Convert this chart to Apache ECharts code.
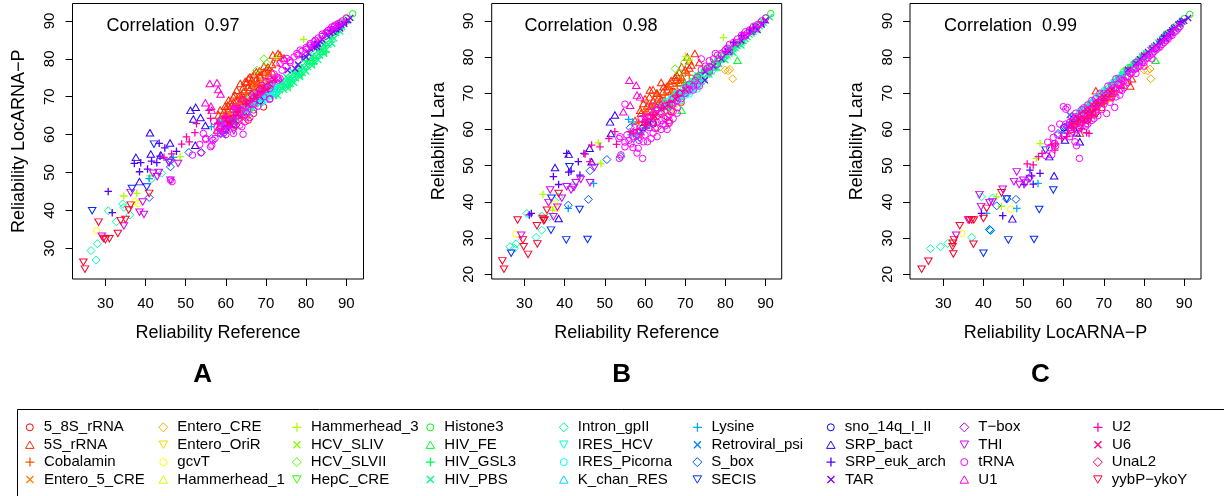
<!DOCTYPE html>
<html><head><meta charset="utf-8">
<script src="https://cdn.jsdelivr.net/npm/echarts@6/dist/echarts.min.js"></script>
<style>html,body{margin:0;padding:0;background:#fff}#c{width:1224px;height:496px}</style>
</head><body><div id="c"></div>
<script>
const famNames = ['5_8S_rRNA','5S_rRNA','Cobalamin','Entero_5_CRE','Entero_CRE','Entero_OriR','gcvT','Hammerhead_1','Hammerhead_3','HCV_SLIV','HCV_SLVII','HepC_CRE','Histone3','HIV_FE','HIV_GSL3','HIV_PBS','Intron_gpII','IRES_HCV','IRES_Picorna','K_chan_RES','Lysine','Retroviral_psi','S_box','SECIS','sno_14q_I_II','SRP_bact','SRP_euk_arch','TAR','T\u2212box','THI','tRNA','U1','U2','U6','UnaL2','yybP\u2212ykoY'];
const famColors = ['#FF0000','#FF2A00','#FF5500','#FF8000','#FFAA00','#FFD500','#FFFF00','#D5FF00','#AAFF00','#80FF00','#55FF00','#2BFF00','#00FF00','#00FF2B','#00FF55','#00FF80','#00FFAA','#00FFD5','#00FFFF','#00D5FF','#00AAFF','#0080FF','#0055FF','#002BFF','#0000FF','#2B00FF','#5500FF','#8000FF','#AA00FF','#D500FF','#FF00FF','#FF00D5','#FF00AA','#FF0080','#FF0055','#FF002B'];
const panelTitles = ['A','B','C'];
const xTitles = ['Reliability Reference','Reliability Reference','Reliability LocARNA\u2212P'];
const yTitles = ['Reliability LocARNA\u2212P','Reliability Lara','Reliability Lara'];
const correlations = ['0.97','0.98','0.99'];
const xTicks = [30,40,50,60,70,80,90];
const yTicksA = [30,40,50,60,70,80,90];
const yTicksBC = [20,30,40,50,60,70,80,90];

// [x, y, familyIndex]
const pointsA = [
[24.5,26.3,35],[24.9,24.5,35],[28.3,36.9,35],[29.5,32.6,35],[30.0,32.3,35],[31.0,32.5,35],[33.1,33.9,35],[33.8,37.3,35],[35.0,37.6,35],[35.8,40.1,35],[36.3,41.4,35],[40.9,44.5,35],
[26.4,29.4,16],[27.7,26.9,16],[28.0,31.2,16],[30.7,39.9,16],[32.7,37.0,16],[34.3,41.7,16],[34.6,40.8,16],[36.1,38.8,16],[41.5,48.3,16],[44.0,49.8,16],
[27.8,34.6,6],[37.4,42.3,6],[38.2,41.8,6],
[29.1,33.2,29],[34.6,35.9,29],[36.3,44.7,29],[38.5,39.5,29],[39.6,38.9,29],[39.3,42.2,29],[41.9,49.8,29],[42.9,48.9,29],[43.3,50.0,29],[45.9,52.6,29],[48.1,52.4,29],[46.2,48.0,29],
[26.7,39.9,23],[36.6,45.8,23],[40.3,46.2,23],[42.1,57.5,23],[45.8,52.7,23],
[30.7,45.0,26],[31.7,39.4,26],[37.2,52.4,26],[38.5,50.2,26],[38.8,52.6,26],[40.5,50.9,26],[41.5,53.0,26],[42.8,52.6,26],[43.4,57.7,26],[44.8,56.5,26],[43.6,54.3,26],[47.7,55.6,26],
[41.1,60.5,25],[41.3,54.9,25],[37.6,54.0,25],[38.5,47.6,25],[46.1,57.8,25],[51.2,66.4,25],[52.5,67.2,25],[51.9,64.1,25],[53.7,64.5,25],[52.4,57.2,25],[54.9,62.4,25],[43.8,54.6,25],
[40.9,43.4,22],[46.2,51.5,22],[46.4,53.3,22],[50.8,55.3,22],[53.9,55.3,22],[56.5,59.0,22],[59.7,61.2,22],
[40.9,48.4,20],[46.9,54.0,20],[56.4,62.1,20],[58.5,63.4,20],[59,62.5,20],[61.5,64,20],[62.5,66,20],
[44.6,54.0,32],[49.0,57.5,32],[50.2,59.4,32],[50.9,58.1,32],[52.3,60.5,32],[52.7,62.9,32],[55.8,66.4,32],[56.2,64.3,32],[46.5,54.9,32],
[34.6,43.8,8],[37.8,44.5,8],[41.1,49.1,8],[48.6,54.2,8],[79.4,85.1,8],[72.6,80.3,8],
[56.0,73.5,31],[57.8,73.7,31],[58.1,71.9,31],[58.7,70.7,31],[56.3,67.5,31],[54.9,68.4,31],[56.5,66.4,31],[60,65,31],[62,67.5,31],[64,69.5,31],
[51.7,54.6,30],[53.5,57.4,30],[53.8,55.2,30],[56.2,56.8,30],[55.0,58.7,30],[64.3,60.1,30],[70.9,69.3,30],[56.8,58.5,30],[46.2,48.0,30],[46.6,47.6,30],
[68,68.5,15],[69,69.5,15],[70,70.2,15],[70.5,71.5,15],[71,70.8,15],
[72,72.3,15],[73.5,73.8,15],[75,75.3,15],[76.5,76.8,15],[78,78.3,15],[79.5,79.8,15],[81,81.3,15],[82.5,82.8,15],[84,84.3,15],[85.5,85.8,15],[87,87.3,15],[88.5,88.6,15],[90,90,15],[91,90.8,15],
[71,70.2,15],[72.5,71.7,15],[74,73.2,15],[75.5,74.7,15],[77,76.2,15],[78.5,77.7,15],[80,79.2,15],[81.5,80.7,15],[83,82.2,15],[84.5,83.7,15],[86,85.2,15],[87.5,86.8,15],[89,88.4,15],
[72,70.2,15],[73.5,71.7,15],[75,73.2,15],[76.5,74.7,15],[78,76.2,15],[79.5,77.7,15],[81,79.2,15],[82.5,80.7,15],[84,82.2,15],[85.5,83.8,15],[87,85.4,15],[88.5,87.2,15],
[73,70.3,15],[74.5,71.8,15],[76,73.3,15],[77.5,74.8,15],[79,76.3,15],[80.5,77.8,15],[82,79.3,15],[83.5,80.8,15],[85,82.4,15],[86.5,84,15],
[75.5,72.2,15],[77,73.7,15],[78.5,75.2,15],[80,76.7,15],[81.5,78.2,15],[83,79.7,15],[84.5,81.3,15],
[70,72,14],[71.5,73.5,14],[72.8,72.5,14],[74.3,73.2,14],[75.8,74.5,14],[77.3,76.2,14],[78.8,77.5,14],[80.3,79.5,14],[81.8,80.2,14],[83.3,82.5,14],[84.8,83.5,14],[86.3,85.5,14],[87.8,87,14],[76,72.8,14],[79,75.7,14],[82,78.7,14],[85,81.8,14],[89,89,14],
[66,67.5,16],[67,68,16],[68,69.5,16],[69,70.2,16],[70,71,16],[71,72.2,16],[72,71.5,16],[73,72,16],[74,72.8,16],[75,74,16],[76,74.6,16],[77,75.5,16],[65,66,16],[64.5,67,16],
[68.5,70.5,16],[70.5,72,16],[72.5,71,16],[74.5,73.5,16],[76.5,75.8,16],[78.5,76.5,16],
[63,64.5,17],[64,65.2,17],[65,66.8,17],[66,66.5,17],[67,67.2,17],[68,68.2,17],[69,69,17],[70,69.8,17],[71,71,17],[72,72.5,17],[73,73.2,17],
[64,66,18],[65.5,67.5,18],[66.5,68.8,18],[67.5,69.5,18],[68.5,70,18],[69.5,70.8,18],[70.5,71.2,18],[67,70.5,18],[66,69.5,18],[68,67.5,18],[69,68.5,18],[70,69.2,18],[71,70.2,18],[72,71,18],[71.5,72,18],
[72,71,13],[75,73.5,13],[78,76,13],[81,79.5,13],[84,82,13],
[73.0,81.4,1],[71.7,81.0,1],[65.6,74.8,1],[64.4,72.6,1],[62.7,71.7,1],[61.9,70.0,1],[60.7,69.1,1],[59.8,67.5,1],[58.6,66.5,1],[58.2,65.2,1],[57.8,61.2,1],[67.6,76.6,1],[68.4,76.8,1],[70.2,77.4,1],[63.6,73.5,1],[65.2,73.9,1],[66.5,74.4,1],[61.1,68.2,1],[62.7,69.1,1],[68.6,75.2,1],[70.6,75.7,1],[71.5,76.6,1],[69.5,78,1],[66,72,1],[64,70.5,1],[63,68,1],[60,65.5,1],[67,73.5,1],[74.5,80.2,1],[72.5,79,1],[68,74,1],
[58.5,64,1],[59.5,66,1],[61,67,1],[62,68.5,1],[63.5,70.5,1],[64.5,71.5,1],[65.5,72.5,1],[66.5,73,1],[67.5,74.5,1],[68.5,75.8,1],[69.5,76.5,1],[70.5,77.8,1],[71.5,78.5,1],[72.5,80.5,1],[73.5,81,1],[60.5,67.8,1],[62.2,70.5,1],[64.8,74,1],[66,75.2,1],[67,76,1],
[66.9,73.5,2],[63.6,70.0,2],[61.9,67.3,2],[60.2,65.6,2],[68.1,72.6,2],[69.4,73.1,2],[66.1,68.2,2],[64.4,66.5,2],[62.7,64.3,2],[67.7,69.1,2],[65,71,2],[61,66,2],[59,63.5,2],[70,74.5,2],[64.5,68.5,2],
[59.5,64.5,2],[61,65,2],[62.5,67,2],[63.5,68,2],[65,69.5,2],[66,70.5,2],[67,71.5,2],[68.5,72,2],[69.5,72.8,2],[71,74,2],[64,69,2],[62,66,2],[60.5,63.5,2],[67.5,73,2],[70.5,76,2],
[65.6,63.8,0],[69.4,67.3,0],[66.9,65.6,0],[63,66.5,0],[61.5,64,0],[67.5,71,0],[62,62.5,0],[65,68.5,0],[60,63,0],[68.5,73.5,0],
[63.5,67,0],[64.5,66,0],[66,67.5,0],[67,68.5,0],[68,70,0],[69,71,0],[70,71.5,0],[62.5,64.5,0],[65.5,70,0],
[62,65,3],[64,67.5,3],[66,70,3],[69,74,3],[61,65.5,3],[63,66.8,3],[65,69,3],[67,72,3],[68,71,3],
[67.6,67.5,5],[63,63.8,7],[70.5,73,9],[66.5,67,11],[65.5,65.8,19],[68.5,69,24],[62,63,24],[60,61.5,24],
[67.7,77.0,10],[70.2,78.8,10],[69.5,80.0,10],
[59.3,59.9,21],[61.0,62.9,21],[60,61,21],[62,63.5,21],[58.5,60.6,21],
[75.4,77,27],[77.3,77.4,27],[80,80.5,27],[81,82.7,27],[82.7,84,27],[84,85.1,27],[85.2,86.2,27],[86.8,87.1,27],[88.5,88,27],[89.5,89.2,27],[90.5,90.2,27],[87.5,87.8,27],[83.5,84.6,27],
[80.5,81.5,27],[82,83,27],[83,84,27],[86,86.8,27],[87,87.8,27],[88.8,89,27],[91,90.8,27],[78,78.5,27],[82.7,83.2,27],
[84.7,86.7,26],[90.1,89.7,26],[86,87.5,26],[88,88.8,26],[82,83.8,26],[79,80.5,26],
[80.5,83,28],[85,86,28],[87.8,88.5,28],
[91.6,91.9,12],[90.1,90.6,12],[89,89.5,12],[88,89.2,12],[86.5,87.2,12],
[61.9,66.5,30],[63.5,65.8,30],[65.2,65.6,30],[67,69.5,30],[68.6,70.9,30],[70.2,72.6,30],[72.7,75.2,30],[73.1,74.4,30],[71.0,72.2,30],[69.4,70.0,30],[66.9,66.5,30],[64.8,63.4,30],[64.0,62.1,30],[61.1,62.9,30],[60.2,61.2,30],[58.6,60.3,30],[57.3,59.0,30],[56.5,57.2,30],[54.4,60.3,30],[55,59,30],[71.0,69.5,30],[71.5,73.5,30],[73.5,74.8,30],[61.9,60.3,30],[63,64,30],[66,64.5,30],[68,67.5,30],[62.5,66.8,30],[60,64,30],[59,62,30],[75.2,80.1,30],[74.4,79.6,30],[73.5,78.8,30],[77.7,81.4,30],[78.5,82.3,30],[81.0,83.6,30],[82.3,84.9,30],[86.4,88.4,30],[87.2,88.9,30],[76,79,30],[80,82.5,30],[84,86.5,30],[85.5,87.5,30],[88.5,89.5,30],[70,74,30],[72,76,30],[67,71,30],[65,67.5,30],[69,72,30],[57.8,62,30],[59.5,60.5,30],[62.5,63.5,30],[58,60.5,30],[59,64,30],[57,63.5,30],
[60,62.5,30],[61,64,30],[62,64.5,30],[63,65,30],[64,66.5,30],[65,66,30],[66,68,30],[67,68,30],[68,70.5,30],[69,71.5,30],[70,72,30],[71,73,30],[72,74.5,30],[73,75,30],[74,77,30],[75,78,30],[76,79.5,30],[77,80.5,30],[78,81,30],[79,82,30],[80,83,30],[81,84,30],[82,84.5,30],[83,85.5,30],[84,86,30],[85,87,30],[86,87.8,30],[87,88.5,30],[88,89.3,30],[89,90,30],[90,90.8,30],[63,67,30],[65,68.5,30],[67,70,30],[69,73,30],[71,74.5,30],[62,62,30],[63.5,62.5,30],[60,60,30],[58.5,61.5,30],
[58,63,32],[60,64.5,32],[62,65,32],[63.5,67,32],[66,69,32],[68,70.5,32],[59,61.5,32],[61,63.5,32],[63,66,32],[65,68,32],[67,69.5,32],[69,71.5,32],[64,64.5,32],
[60.5,63,33],[63,65.5,33],[65.5,68,33],[67.5,70,33],[70,71.8,33],[72,74.5,33],
[61,64,34],[64.5,69,34],[66.5,70.5,34],[68.5,72,34],[70.5,72.8,34],[62.5,62.5,34],[65,64.5,34],
[60.5,62,29],[62,61,29]
];

const pointsB = [
[24.5,23.7,35],[24.9,21.4,35],[28.3,35.0,35],[29.6,29.5,35],[29.8,27.6,35],[30.9,25.5,35],[33.2,28.4,35],[33.1,33.4,35],[34.6,35.4,35],[35.0,35.0,35],[35.6,37.7,35],[38.5,42.3,35],[34.8,34.8,35],
[26.4,27.6,16],[27.9,28.4,16],[27.5,27.2,16],[30.6,36.8,16],[32.9,30.2,16],[34.3,32.2,16],[34.3,36.1,16],[36.2,35.9,16],[42.0,44.6,16],[38.5,41.4,16],
[27.9,31.1,6],[37.5,39.4,6],[38.0,38.2,6],
[29.2,30.8,29],[36.0,39.8,29],[36.4,43.3,29],[37.2,35.9,29],[38.2,38.5,29],[39.3,41.0,29],[40.5,44.2,29],[41.6,43.3,29],[42.8,45.3,29],[46.3,45.3,29],[44.0,46.2,29],[47.4,49.5,29],[42.3,44.0,29],
[26.7,25.8,23],[36.7,41.0,23],[36.6,32.2,23],[40.4,29.5,23],[45.7,29.6,23],[43.7,37.9,23],[41.2,49.7,23],
[31.7,36.8,26],[31.2,36.4,26],[37.2,47.0,26],[38.5,44.8,26],[40.5,53.4,26],[41.6,48.5,26],[43.4,51.1,26],[44.8,53.4,26],[43.8,47.4,26],[41.0,48.2,26],
[37.6,49.5,25],[38.5,35.4,25],[41.0,53.2,25],[46.2,54.8,25],[51.3,62.1,25],[52.5,64.0,25],[51.5,58.9,25],[46.7,51.1,25],
[40.9,39.1,22],[45.9,40.7,22],[50.5,51.7,22],[54.0,52.5,22],[46.3,48.6,22],[56.3,60.5,22],
[40.9,38.2,20],[47.2,45.1,20],[55.9,62.8,20],[56.9,62.1,20],[58,59,20],[60,60.5,20],[56.5,58.5,20],
[45.1,53.2,32],[46.7,55.7,32],[48.8,55.2,32],[51.0,57.5,32],[52.9,55.9,32],[52.5,59.4,32],[56.3,59.4,32],[46.3,51.1,32],
[34.6,42.1,8],[37.0,37.7,8],[48.4,56.3,8],[49.0,50.6,8],[79.5,85.4,8],[70.1,80.2,8],[71,79.2,8],
[56.1,73.6,31],[57.8,72.2,31],[58.0,69.5,31],[58.8,69.0,31],[56.3,66.7,31],[54.6,64.9,31],[60,63,31],[62,65,31],[64,67,31],
[55.0,67.0,30],[53.8,58.0,30],[55.0,55.2,30],[53.6,52.0,30],[58.3,54.8,30],[59.4,52.0,30],[59.6,56.6,30],[60.6,56.6,30],[62.5,60.3,30],[66.0,61.7,30],[67.0,63.0,30],[57.9,58.2,30],
[79.9,76.4,4],[80.7,76.2,4],[81.1,76.6,4],[81.8,74.0,4],
[83.0,79.1,13],[69.1,65.3,13],[75,76.5,13],[78,79.8,13],
[69.7,78.4,10],[67.5,76.8,10],[68.5,75.5,10],
[91.3,92.0,12],[90,90.8,12],[88.8,89.6,12],[87.5,88.5,12],
[68,70,15],[69,70.5,15],[70,71.5,15],[71,72,15],[72,73,15],[73,74,15],[74,75,15],[75,75.8,15],[76,76.5,15],[77,77.6,15],[78,78.4,15],[79,79.2,15],[80,80.2,15],[81,81,15],[82,82.2,15],[83,83,15],[84,84,15],[85,85,15],[86,86.2,15],[87,87,15],[88,88,15],[89,89,15],[90,90,15],
[70.5,70.8,15],[71.5,71.5,15],[72.5,72.5,15],[73.5,73.5,15],[74.5,74.2,15],[75.5,75.3,15],[76.5,76,15],[77.5,77,15],[78.5,78,15],[79.5,79.5,15],[80.5,80.5,15],[81.5,81.5,15],[82.5,82.5,15],[83.5,83.5,15],[84.5,84.5,15],[85.5,85.5,15],[86.5,86.5,15],[87.5,87.5,15],[88.5,88.5,15],[89.5,89.5,15],[91,91,15],
[74,73.2,15],[76,75.2,15],[78,77,15],[80,79.2,15],[82,81.2,15],[84,83.2,15],[73,75,15],[77,78.8,15],[81,82.6,15],
[70,72.5,14],[72,74,14],[74,75.8,14],[76,77.5,14],[78,79,14],[80,81,14],[82,83,14],[84,84.8,14],[86,86.8,14],
[71,73,14],[73,74.8,14],[75,76.5,14],[77,78,14],[79,80,14],[81,82,14],[83,83.8,14],
[64,66,16],[65,67.5,16],[66,68,16],[67,69,16],[68,69.5,16],[69,70,16],[70,70.8,16],[71,71.5,16],[72,72.2,16],[73,73,16],[74,74.2,16],[75,75,16],
[68.5,69,16],[69.5,69.5,16],[70.5,70,16],[71.5,70.8,16],[72.5,71.5,16],[73.5,72.5,16],[74.5,73.5,16],[76,75.5,16],[77,76.5,16],
[63,65,17],[64.5,66,17],[66,67,17],[67.5,68.2,17],[69,69,17],[70.5,70.2,17],[72,71.5,17],[73.5,72.5,17],
[65,67.5,18],[66.5,68.5,18],[68,70,18],[69.5,71,18],[71,71,18],[70,69.5,18],[67.5,67.8,18],[72.5,72,18],[68.5,69,18],[70.5,70.5,18],[71.5,71.8,18],[69,68,18],[71,69.8,18],[73,71.2,18],
[61.2,70.9,1],[67.7,73.6,1],[69.1,77.3,1],[62.9,70.0,1],[61.1,69.0,1],[59.6,67.2,1],[58.8,65.3,1],[60.5,64.9,1],[64.6,71.8,1],[66.2,72.7,1],[67.9,75.0,1],[69.1,74.5,1],[72.4,81.0,1],[71,79,1],[70.5,80,1],[63.5,69,1],[65.5,71,1],[61.5,66.5,1],[66.5,70.5,1],[68.5,73,1],[57.5,62.5,1],[60,62,1],[71.5,77.8,1],[73.5,78.5,1],[64,73,1],[62,71,1],
[59,64.5,1],[60.5,66.5,1],[62,68,1],[63,70,1],[64.5,70.5,1],[65.5,72,1],[66.5,73.5,1],[67.5,74.5,1],[68.5,75.8,1],[70,76.5,1],[71,77,1],[60,68.5,1],[62.5,67,1],[64,68.5,1],
[66,72.5,2],[63,69.5,2],[61.5,67,2],[60,65,2],[68,73,2],[69,74,2],[65,68,2],[64,66.5,2],[62,64.5,2],[67.5,69,2],[70,75.5,2],[58.5,62,2],
[60.5,64,2],[62,66,2],[63.5,67.5,2],[65,69.5,2],[66.5,71,2],[68,72,2],[69.5,73,2],[71,75,2],[61.5,63,2],
[65.5,63.5,0],[69,67.5,0],[66.5,65,0],[63,66,0],[61,63.5,0],[67,70.5,0],[62,62,0],[64.5,68,0],
[62,64,3],[64.5,67,3],[67,70,3],
[69,67.5,5],[67,65.5,5],[63,64,7],[70.5,72,9],[66,66,11],[65.5,66.5,19],[59.5,60.5,24],[62,61.5,24],
[59,59.5,21],[60.5,61,21],[58,57.5,21],[61,62,21],
[75,76,27],[77,77.5,27],[79,79.5,27],[81,81.5,27],[82.5,83.5,27],[84,84.5,27],[85,86,27],[86.5,87,27],[87.5,88.3,27],[89,89,27],[90,90.2,27],[88,87.5,27],[74.9,73.6,27],
[84,86,26],[86,87.5,26],[89.5,89.5,26],[82,84,26],[80,81.5,26],[87,88,26],
[80,82,28],[85,86.2,28],
[61.9,66.5,30],[63.5,64.5,30],[65,63,30],[67,67,30],[68.6,70,30],[70.2,71.5,30],[72.5,73.5,30],[73,74.5,30],[71,71,30],[69,68.5,30],[66,64,30],[64.5,61.5,30],[64,60,30],[61,60.5,30],[60.5,61,30],[58.5,59.5,30],[57,58,30],[56.5,56,30],[55.5,58.5,30],[56,57,30],[58,53.5,30],[70.3,70.9,30],[72,70.9,30],[76.1,77.3,30],[74,79.5,30],[75.5,77,30],[77.5,81,30],[79,80.5,30],[80.5,82.5,30],[81,81.5,30],[83,84,30],[84.5,86,30],[86,87,30],[87.5,88,30],[88.5,89,30],[85,85.8,30],[78,78,30],[76,76,30],[73.5,72,30],[68,66,30],[65.5,60,30],[63,62,30],[62,64,30],[59,63,30],[60,63.5,30],[57.5,60.5,30],[60,58.5,30],[55,56.5,30],[54,53,30],[53.5,57.5,30],
[60,62,30],[61,63.5,30],[62,63,30],[63,65.5,30],[64,65,30],[65,66.5,30],[66,67,30],[67,68.5,30],[68,68,30],[69,70,30],[70,70,30],[71,72.5,30],[72,72,30],[73,72.5,30],[74,76.5,30],[75,77.5,30],[76,79,30],[77,79.5,30],[78,80.5,30],[79,81,30],[80,82,30],[81,83.5,30],[82,84,30],[83,85,30],[84,86,30],[85,87,30],[86,87.5,30],[87,88.5,30],[88,89,30],[89,90,30],[90,90.8,30],[62,59,30],[63,58,30],[61.5,57.5,30],[64,62.5,30],[66,62.5,30],[68,64.5,30],[65,61,30],[67,65,30],[57,55,30],[58.5,57,30],
[58,60,32],[60,62,32],[62,64,32],[64,66,32],[66,67.5,32],[68,69.5,32],[59,58.5,32],[57,59,32],
[60,61,33],[62.5,63.5,33],[65,66,33],[67.5,68.5,33],[70,71,33],
[61,62,34],[64,64.5,34],[66.5,67,34],[68.5,70,34],[63,60.5,34],[66,62,34]
];

const pointsC = [
[24.6,21.4,35],[26.3,23.6,35],[32.3,27.6,35],[32.5,25.6,35],[32.7,29.5,35],[34.1,33.4,35],[36.5,35.0,35],[37.1,35.0,35],[37.6,35.0,35],[37.5,28.3,35],[40.0,35.4,35],[40.8,38.2,35],[44.5,42.5,35],[32.4,28.6,35],
[26.8,27.1,16],[29.3,27.6,16],[31.1,28.5,16],[37.1,30.2,16],[39.5,41.4,16],[41.6,32.2,16],[42.3,41.1,16],
[34.6,31.3,6],[46.8,38.0,6],
[33.2,30.8,29],[36.2,35.0,29],[39.0,42.0,29],[39.4,38.7,29],[42.2,40.0,29],[44.8,43.5,29],[48.3,48.3,29],[47.6,45.6,29],[49.9,46.0,29],[48.9,44.8,29],[51.6,46.5,29],[50.5,45.2,29],[41.5,39.8,29],
[40.0,25.8,23],[46.2,29.5,23],[52.6,29.6,23],[53.9,37.9,23],[57.4,43.3,23],[45.8,40.8,23],[55.5,54.3,23],
[39.5,36.8,26],[44.8,36.2,26],[50.1,44.8,26],[52.4,44.9,26],[54.1,47.9,26],[51.6,48.8,26],[52.0,47.2,26],
[47.2,35.3,25],[57.6,47.2,25],[56.4,52.5,25],[60.3,57.1,25],[64.0,56.6,25],[63.2,59.1,25],
[43.3,38.9,22],[45.8,40.8,22],[48.1,40.7,22],[41.5,32.4,22],[51.3,46.5,22],[58.6,58.9,22],[60.3,60.7,22],[41.8,32.1,22],
[48.3,38.2,20],[53.6,45.1,20],[59.5,59,20],[61.5,61.8,20],[40.8,36.8,20],
[50.9,50.5,32],[52.4,50.2,32],[53.7,52.5,32],[54.6,53.4,32],[57.0,55.7,32],[57.8,54.3,32],[60.7,58.0,32],[62.4,60.3,32],[65.7,59.1,32],[66.3,58.9,32],
[43.3,41.4,8],[44.5,38.8,8],[54.1,56.1,8],[53.2,52.0,8],
[57.0,60.3,30],[57.4,57.8,30],[57.8,56.1,30],[59.9,66.3,30],[60.9,66.1,30],[60.5,65.6,30],[62.8,56.6,30],[63.2,55.5,30],[63.9,52.0,30],[65.5,60.9,30],[70.7,64.4,30],[72.7,66.1,30],[74.0,69.5,30],[74.5,70.8,30],
[80.0,76.4,4],[80.9,76.2,4],[81.5,76.7,4],[81.7,74.0,4],
[82.9,79.1,13],[77,77.5,13],[80,80.5,13],
[91.4,91.8,12],[90,90.6,12],[89,89.5,12],[87.5,88.3,12],[85.5,86.4,12],
[76,77,10],[75,76.2,10],
[68.0,70.7,1],[74.4,72.2,1],[76.6,72.0,1],[70.8,69.0,1],[72,70,1],[70,68.5,1],[66,66.5,1],[64,64.5,1],[73,71.5,1],[69,67.5,1],[71.5,68.8,1],[63,63.2,1],[64,59,1],
[65,65.5,1],[67,66.5,1],[68.5,67.5,1],[69.5,68,1],[71,70,1],[72.5,70.5,1],[74,72.5,1],[75.5,73.5,1],[77,74,1],[66,63.5,1],[67.5,64.5,1],
[70,70,15],[72,71.5,15],[74,73.5,15],[75,74.8,15],[76,76,15],[77,77,15],[78,78,15],[79,79,15],[80,80,15],[81,81,15],[82,82,15],[83,83,15],[84,84,15],[85,85,15],[86,86,15],[87,87,15],[88,88,15],[89,89,15],[90,90,15],
[70.5,71,15],[71.5,72,15],[72.5,73,15],[73.5,74,15],[74.5,75,15],[75.5,76,15],[76.5,77,15],[77.5,78,15],[78.5,79,15],[79.5,80,15],[80.5,81,15],[81.5,82,15],[82.5,83,15],[83.5,84,15],[84.5,85,15],[85.5,86,15],
[72,72.5,14],[74,74.5,14],[76,76.8,14],[78,78.8,14],[80,80.8,14],[82,82.6,14],[84,84.6,14],[86,86.6,14],[73,73.8,14],[75,75.9,14],[77,77.9,14],[79,80,14],
[64,64.5,16],[66,66.2,16],[68,68,16],[70,70.2,16],[72,72,16],[74,74,16],[76,75.8,16],[78,77.7,16],[67,67.5,16],[69,69.3,16],[71,71.3,16],[73,73.2,16],
[65,65.5,16],[69.5,70,16],[73.5,74,16],[75.5,76.3,16],[77.5,78.3,16],
[63,63.5,17],[65,65.2,17],[67,67,17],[69,68.8,17],[71,70.8,17],[73,72.8,17],[75,75,17],
[64,65,18],[66,66.8,18],[68,68.8,18],[70,70.6,18],[72,72.6,18],[74,74.4,18],
[65,64.5,2],[67,66,2],[69,67,2],[71,68.8,2],[62,61,2],[64,62,2],[68,66,2],[66,63.5,2],[70,68,2],[67.5,64,2],
[63,61.5,2],[65.5,62.5,2],[67,65,2],[69,66.5,2],[71,68,2],[72.5,69.5,2],
[66,64,0],[68,66.5,0],[70,67.8,0],[64,61.8,0],[62,60,0],[72,70.5,0],[69.5,66,0],
[63,62,3],[66,65.2,3],[69,68.2,3],
[67,66.5,5],[65,64,7],[70,69.5,9],[66.5,66,11],[65,65.5,19],[67,67.5,19],[60,60.5,24],[62.5,63,24],
[60.5,60,21],[61,61,21],[62,62.2,21],[63,62.5,21],[61.5,64,21],
[76,76.5,27],[78,78.3,27],[80,80.5,27],[82,82.4,27],[84,84.3,27],[85,85.5,27],[86,86.3,27],[87,87.4,27],[88,88.2,27],[89,89.3,27],[90,90,27],[83,83.3,27],[81,81.4,27],[79,79.4,27],
[84.5,84.5,27],[85.5,85,27],[86.5,86.8,27],[87.5,88,27],[88.5,89,27],[89.5,89.8,27],[91,90.8,27],
[85,85.8,26],[87,87.6,26],[89,89.8,26],[84,84.2,26],[86.5,86.3,26],
[83,82.5,28],[86,85.6,28],
[61.5,62,30],[62.5,61,30],[63,63.5,30],[64,62.8,30],[65,64,30],[66,65,30],[67,65.5,30],[68,66.8,30],[69,67.5,30],[70,68.5,30],[71,69.8,30],[72,70.8,30],[73,71.5,30],[74,72.8,30],[75,73.5,30],[76,74.5,30],[77,75.8,30],[78,76.8,30],[79,77.5,30],[80,78.5,30],[81,79.8,30],[82,80.8,30],[83,82,30],[84,82.8,30],[85,84,30],[86,85,30],[87,86,30],[88,87.2,30],[89,88.5,30],[66,66.8,30],[68,68.5,30],[70,70,30],[72,72.2,30],[74,74,30],[76,76.3,30],[78,78.5,30],[80,80.2,30],[82,82.5,30],[64.5,65.5,30],[62,63.5,30],[61,61,30],[58.5,58.5,30],[59,61.5,30],[56,56.5,30],[57,53,30],[55.5,52.8,30],[56.5,55,30],[58,55.5,30],[69.5,65.5,30],[71.5,67.5,30],[67.5,63,30],[66,61.5,30],[73,69,30],[75,71.5,30],[68.5,63.8,30],[65,62.5,30],[63.5,60,30],[61.5,58,30],
[60.5,61.5,30],[61.5,60.5,30],[62.5,62.5,30],[63.5,62,30],[64.5,64,30],[65.5,64.5,30],[66.5,65.5,30],[67.5,66.5,30],[68.5,67.5,30],[69.5,68.5,30],[70.5,69.5,30],[71.5,70.5,30],[72.5,71.5,30],[73.5,72.5,30],[74.5,73.5,30],[75.5,74.5,30],[76.5,75.5,30],[77.5,76.5,30],[78.5,77.5,30],[79.5,78.5,30],[80.5,79.5,30],[81.5,80.5,30],[82.5,81.5,30],[83.5,82.5,30],[84.5,83.5,30],[85.5,84.5,30],[86.5,85.8,30],[87.5,86.8,30],[88.5,87.8,30],[63,64.5,30],[65,66,30],[67,68,30],[69,70,30],[71,72,30],[73,74,30],[66,63,30],[68,65,30],[70,67,30],[72,69,30],[74,71,30],[76,73,30],[78,75.5,30],[80,77.5,30],[82,79.5,30],[60,58.5,30],[62,59,30],[64,60.5,30],[65.5,61.5,30],[67,62.5,30],
[61,59,32],[62,60.5,32],[63.5,61.5,32],[64.5,60.2,32],[66,63,32],[68,65.5,32],[70,68,32],[65,62,32],[67,64,32],[58,56,32],[59.5,57.5,32],
[62,61.5,33],[64,63,33],[66,65,33],[68,67,33],[70,69,33],[72,71,33],
[63,62.5,34],[65,64.2,34],[67,66,34],[69,68,34],[71,70,34],[68,64.5,34],[66,62.5,34],
[64,63.5,31],[66,65.5,31],[68,67.5,31]
];

const shapeSymbols = [
  'circle',
  'path://M5,0L10,8.66L0,8.66Z',
  'path://M5,0L5,10M0,5L10,5',
  'path://M0,0L10,10M10,0L0,10',
  'path://M5,0L10,5L5,10L0,5Z',
  'path://M0,0L10,0L5,8.66Z'
];
const shapeSizes = [6.5, [7.5,6.5], 7.5, 6, 8, [7.5,6.5]];
const shapeLineWidths = [1, 1, 1.3, 1.3, 1, 1];
const legendIconSizes = [7, 8.5, 9, 7, 9, 8.5];

const FONT = 'Liberation Sans';
const grids = [
  {left:72.5, top:3.5, width:291, height:275.5},
  {left:491.7, top:3.5, width:290, height:275.5},
  {left:910, top:3.5, width:291, height:275.5}
];
const xRanges = [[21.8,94.3],[21.85,94.0],[21.7,94.2]];
const yRanges = [[21.9,94.6],[18.7,94.8],[18.7,94.8]];
const yTickSets = [yTicksA, yTicksBC, yTicksBC];
const corrX = [173, 591, 1010.5];
const titleX = [202.7, 621.7, 1040.5];
const legendColX = [29.3,162.8,296.3,429.8,563.3,696.8,830.3,963.8,1097.3];
const legendRowY = [427.3,444.7,462.1,479.5];

function axisCommon(ticks, margin){
  return {
    type:'value', axisLine:{show:false}, splitLine:{show:false},
    axisTick:{show:true, inside:false, length:7, lineStyle:{color:'#000',width:1}, customValues:ticks},
    axisLabel:{customValues:ticks, color:'#000', fontSize:15, fontFamily:FONT, margin:margin},
    nameLocation:'middle', nameTextStyle:{color:'#000', fontSize:18, fontFamily:FONT}
  };
}

const xAxes = [], yAxes = [], series = [], graphics = [];
const allPoints = [pointsA, pointsB, pointsC];
for (let p=0;p<3;p++){
  const xa = axisCommon(xTicks, 17);
  Object.assign(xa, {gridIndex:p, min:xRanges[p][0], max:xRanges[p][1], name:xTitles[p], nameGap:45});
  xAxes.push(xa);
  const ya = axisCommon(yTickSets[p], 15);
  Object.assign(ya, {gridIndex:p, min:yRanges[p][0], max:yRanges[p][1], name:yTitles[p], nameGap:44});
  ya.axisLabel.rotate = 90;
  yAxes.push(ya);
  famNames.forEach((name,f)=>{
    series.push({
      type:'scatter', name, xAxisIndex:p, yAxisIndex:p,
      symbol:shapeSymbols[f%6], symbolSize:shapeSizes[f%6],
      itemStyle:{color:'rgba(0,0,0,0)', borderColor:famColors[f], borderWidth:shapeLineWidths[f%6], opacity:1},
      emphasis:{disabled:true}, silent:true, animation:false,
      data: allPoints[p].filter(d=>d[2]===f).map(d=>[d[0],d[1]])
    });
  });
  graphics.push({type:'text', x:corrX[p], y:26, silent:true,
    style:{text:'Correlation  '+correlations[p], font:'18px "Liberation Sans"', fill:'#000', align:'center', verticalAlign:'middle'}});
  graphics.push({type:'text', x:titleX[p], y:374.5, silent:true,
    style:{text:panelTitles[p], font:'bold 26px "Liberation Sans"', fill:'#000', align:'center', verticalAlign:'middle'}});
}
graphics.push({type:'rect', shape:{x:17.5, y:409.5, width:1300, height:200}, silent:true,
  style:{fill:'none', stroke:'#000', lineWidth:1}});

const legends = famNames.map((name,f)=>{
  const c = Math.floor(f/4), r = f%4, w = legendIconSizes[f%6];
  return {
    orient:'vertical', left:legendColX[c]-w/2, top:legendRowY[r]-8.5, padding:0,
    itemWidth:w, itemHeight:w, symbolKeepAspect:true, selectedMode:false,
    textStyle:{fontSize:15, fontFamily:FONT, color:'#000', lineHeight:17, padding:[0,0,0,9-w/2]},
    itemStyle:{borderWidth:shapeLineWidths[f%6]},
    data:[name]
  };
});

const chart = echarts.init(document.getElementById('c'), null, {renderer:'canvas'});
chart.setOption({
  animation:false,
  backgroundColor:'#fff',
  grid: grids.map(g=>Object.assign({show:true, borderColor:'#000', borderWidth:1, backgroundColor:'transparent'}, g)),
  xAxis:xAxes, yAxis:yAxes, series, legend:legends, graphic:graphics
});
</script></body></html>
